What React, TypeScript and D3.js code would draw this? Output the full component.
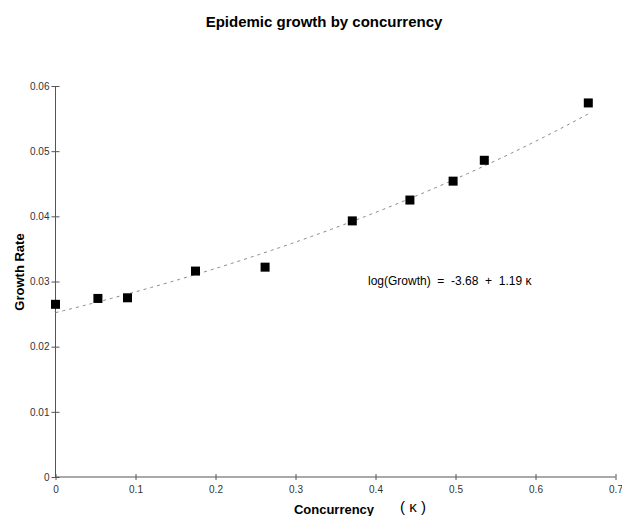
import React, { useEffect, useRef } from 'react'
import * as d3 from 'd3'

// concurrency (kappa) and observed growth rate
const kappa = [0, 0.053, 0.09, 0.175, 0.262, 0.371, 0.443, 0.497, 0.536, 0.666]
const growth = [0.0265, 0.0274, 0.0275, 0.0316, 0.0322, 0.0393, 0.0425, 0.0454, 0.0486, 0.0574]

const xTicks = [0, 0.1, 0.2, 0.3, 0.4, 0.5, 0.6, 0.7]
const yTicks = [0, 0.01, 0.02, 0.03, 0.04, 0.05, 0.06]

// fitted curve from the annotation: log(Growth) = -3.68 + 1.19 k
const fitIntercept = -3.68
const fitSlope = 1.19
const fitEnd = 0.666

const W = 622
const H = 516
const FONT = 'Liberation Sans, Arial, Helvetica, sans-serif'

export default function App() {
  const ref = useRef<SVGSVGElement>(null)

  useEffect(() => {
    const svg = d3.select(ref.current)
    svg.selectAll('*').remove()

    const x = d3.scaleLinear().domain([0, 0.7]).range([55.5, 615.5])
    const y = d3.scaleLinear().domain([0, 0.06]).range([477, 86])

    // title
    svg.append('text')
      .attr('x', 324).attr('y', 27)
      .attr('text-anchor', 'middle')
      .attr('font-family', FONT).attr('font-size', 15).attr('font-weight', 'bold')
      .text('Epidemic growth by concurrency')

    // y axis
    const yAxis = svg.append('g')
      .attr('transform', `translate(${x(0)},0)`)
      .call(d3.axisLeft(y).tickValues(yTicks).tickSize(4).tickPadding(2).tickFormat(d => String(d)))
    yAxis.select('.domain').attr('stroke', '#555').attr('d', `M0,${y(0)}V${y(0.06)}`)
    yAxis.selectAll('.tick line').attr('x1', 4).attr('stroke', '#555')
    yAxis.selectAll('.tick text').attr('font-family', FONT).attr('font-size', 10).attr('fill', '#333')

    // x axis
    const xAxis = svg.append('g')
      .attr('transform', `translate(0,${y(0)})`)
      .call(d3.axisBottom(x).tickValues(xTicks).tickSize(3).tickPadding(6).tickFormat(d => String(d)))
    xAxis.select('.domain').attr('stroke', '#555').attr('d', `M${x(0)},0H${x(0.7)}`)
    xAxis.selectAll('.tick line').attr('y1', -3).attr('stroke', '#555')
    xAxis.selectAll('.tick text').attr('font-family', FONT).attr('font-size', 10).attr('fill', '#333')

    // fitted curve
    const ks = d3.range(0, fitEnd, 0.005).concat([fitEnd])
    const line = d3.line<number>()
      .x(k => x(k))
      .y(k => y(Math.exp(fitIntercept + fitSlope * k)))
    svg.append('path')
      .attr('d', line(ks))
      .attr('fill', 'none')
      .attr('stroke', '#888')
      .attr('stroke-width', 1)
      .attr('stroke-dasharray', '3,4')

    // points
    const s = 9
    svg.append('g').selectAll('rect')
      .data(kappa.map((k, i) => ({ k, g: growth[i] })))
      .join('rect')
      .attr('x', d => x(d.k) - s / 2)
      .attr('y', d => y(d.g) - s / 2)
      .attr('width', s).attr('height', s)
      .attr('fill', '#000')

    // annotation
    svg.append('text')
      .attr('x', 368).attr('y', 285)
      .attr('font-family', FONT).attr('font-size', 12)
      .style('white-space', 'pre')
      .text('log(Growth)  =  -3.68  +  1.19 \u03ba')

    // axis titles
    svg.append('text')
      .attr('transform', 'translate(24,272) rotate(-90)')
      .attr('text-anchor', 'middle')
      .attr('font-family', FONT).attr('font-size', 13).attr('font-weight', 'bold')
      .text('Growth Rate')

    svg.append('text')
      .attr('x', 334).attr('y', 514)
      .attr('text-anchor', 'middle')
      .attr('font-family', FONT).attr('font-size', 13).attr('font-weight', 'bold')
      .text('Concurrency')

    svg.append('text')
      .attr('x', 413).attr('y', 512)
      .attr('text-anchor', 'middle')
      .attr('font-family', FONT).attr('font-size', 15)
      .style('white-space', 'pre')
      .text('( \u03ba )')
  }, [])

  return (
    <svg
      ref={ref}
      width={W}
      height={H}
      style={{ position: 'absolute', left: 0, top: 0, background: '#fff' }}
    />
  )
}
